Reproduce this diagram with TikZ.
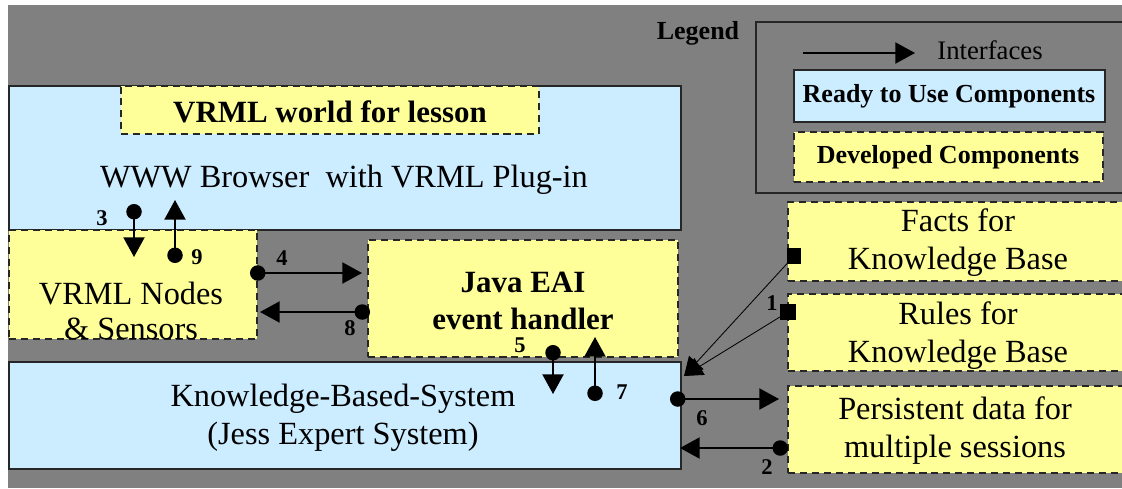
\documentclass[tikz,border=0pt]{standalone}
\usepackage{fontspec}
\setmainfont{Liberation Serif}
\usetikzlibrary{arrows.meta, fit}

\definecolor{bggray}{RGB}{128,128,128}
\definecolor{readyblue}{RGB}{204,236,255}
\definecolor{devyellow}{RGB}{255,255,153}

\begin{document}
\begin{tikzpicture}[x=0.025cm, y=-0.025cm,
    ready/.style={draw=black!85, line width=1.3pt, fill=readyblue, inner sep=0pt},
    devel/.style={draw=black!85, line width=1.3pt, dash pattern=on 5pt off 3.5pt, fill=devyellow, inner sep=0pt},
    txt/.style={font=\fontsize{23}{27}\selectfont, align=center, inner sep=0pt},
    btxt/.style={font=\fontsize{22}{26}\selectfont\bfseries, align=center, inner sep=0pt},
    ltxt/.style={font=\fontsize{18.5}{20}\selectfont\bfseries, inner sep=0pt},
    num/.style={font=\fontsize{16}{16}\selectfont\bfseries, inner sep=0pt},
    iface/.style={line width=1.3pt, {Circle[length=11pt]}-{Triangle[length=14pt, width=15pt]}},
    kbline/.style={line width=0.6pt, -{Triangle[length=13pt, width=14pt]}}]

    \useasboundingbox (0,0) rectangle (1122,488);
    \clip (0,0) rectangle (1122,488);

    % Background
    \fill[white] (0,0) rectangle (1122,488);
    \fill[bggray] (8,5) rectangle (1122,488);

    % Browser and the lesson world
    \node[ready, fit={(9,86) (681,230)}] (browser) {};
    \node[devel, fit={(121,86) (539,134)}] (world) {};
    \node[btxt] (worldtext) at (330,112) {VRML world for lesson};
    \node[txt] (browsertext) at (344,180) {WWW Browser\ \ with VRML Plug-in};

    % VRML nodes and the EAI handler
    \node[devel, fit={(9,230) (257,339)}] (nodes) {};
    \node[txt, font=\fontsize{23}{25}\selectfont] (nodestext) at (131,311) {VRML Nodes\\\& Sensors};
    \node[devel, fit={(368,240) (678,357)}] (eai) {};
    \node[btxt] (eaitext) at (523,301) {Java EAI\\event handler};

    % Knowledge-based system
    \node[ready, fit={(9,362) (681,469)}] (kbs) {};
    \node[txt] (kbstext) at (343,418) {Knowledge-Based-System\\(Jess Expert System)};

    % Knowledge base files
    \node[devel, fit={(788,202) (1140,281)}] (facts) {};
    \node[txt] (factstext) at (958,243) {Facts for\\Knowledge Base};
    \node[devel, fit={(788,294) (1140,371)}] (rules) {};
    \node[txt] (rulestext) at (958,336) {Rules for\\Knowledge Base};
    \node[devel, fit={(788,386) (1140,473)}] (persist) {};
    \node[txt] (persisttext) at (955,431) {Persistent data for\\multiple sessions};

    % Legend
    \node[ltxt] (legend) at (698,33) {Legend};
    \node[draw=black!85, line width=1.3pt, fit={(756,22) (1140,193)}, inner sep=0pt] (legendbox) {};
    \coordinate (lgA) at (803,53);
    \coordinate (lgB) at (915,53);
    \draw[line width=1.3pt, -{Triangle[length=14pt, width=15pt]}] (lgA) -- (lgB);
    \node[font=\fontsize{19}{20}\selectfont, inner sep=0pt] (ifacetext) at (990,50) {Interfaces};
    \node[ready, fit={(794,70) (1105,122)}] (legready) {};
    \node[ltxt] (readytext) at (949,96) {Ready to Use Components};
    \node[devel, fit={(794,132) (1103,182)}] (legdevel) {};
    \node[ltxt] (develtext) at (948,157) {Developed Components};

    % Interface end points
    \coordinate (i3a) at (134,204);  \coordinate (i3b) at (134,257);
    \coordinate (i9a) at (175,263);  \coordinate (i9b) at (175,200);
    \coordinate (i4a) at (250,273);  \coordinate (i4b) at (362,273);
    \coordinate (i8a) at (370,312);  \coordinate (i8b) at (260,312);
    \coordinate (i5a) at (553,345);  \coordinate (i5b) at (553,394);
    \coordinate (i7a) at (595,401);  \coordinate (i7b) at (595,337);
    \coordinate (i6a) at (670,399);  \coordinate (i6b) at (779,399);
    \coordinate (i2a) at (788,448);  \coordinate (i2b) at (680,448);
    \coordinate (i1a) at (794,256);  \coordinate (i1b) at (788,312);
    \coordinate (kbcorner) at (684,376);

    % Interfaces
    \draw[iface] (i3a) -- (i3b);
    \draw[iface] (i9a) -- (i9b);
    \draw[iface] (i4a) -- (i4b);
    \draw[iface] (i8a) -- (i8b);
    \draw[iface] (i5a) -- (i5b);
    \draw[iface] (i7a) -- (i7b);
    \draw[iface] (i6a) -- (i6b);
    \draw[iface] (i2a) -- (i2b);
    \draw[kbline] (i1a) -- (kbcorner);
    \draw[kbline] (i1b) -- (kbcorner);
    \fill (i1a) +(-7,-8) rectangle +(7,8);
    \fill (i1b) +(-8,-8) rectangle +(8,8);

    % Interface numbers
    \node[num] (n3) at (102,218) {3};
    \node[num] (n9) at (197,257) {9};
    \node[num] (n4) at (282,258) {4};
    \node[num] (n8) at (350,328) {8};
    \node[num] (n5) at (520,345) {5};
    \node[num] (n7) at (622,392) {7};
    \node[num] (n6) at (702,418) {6};
    \node[num] (n2) at (767,467) {2};
    \node[num] (n1) at (772,303) {1};

\end{tikzpicture}
\end{document}
